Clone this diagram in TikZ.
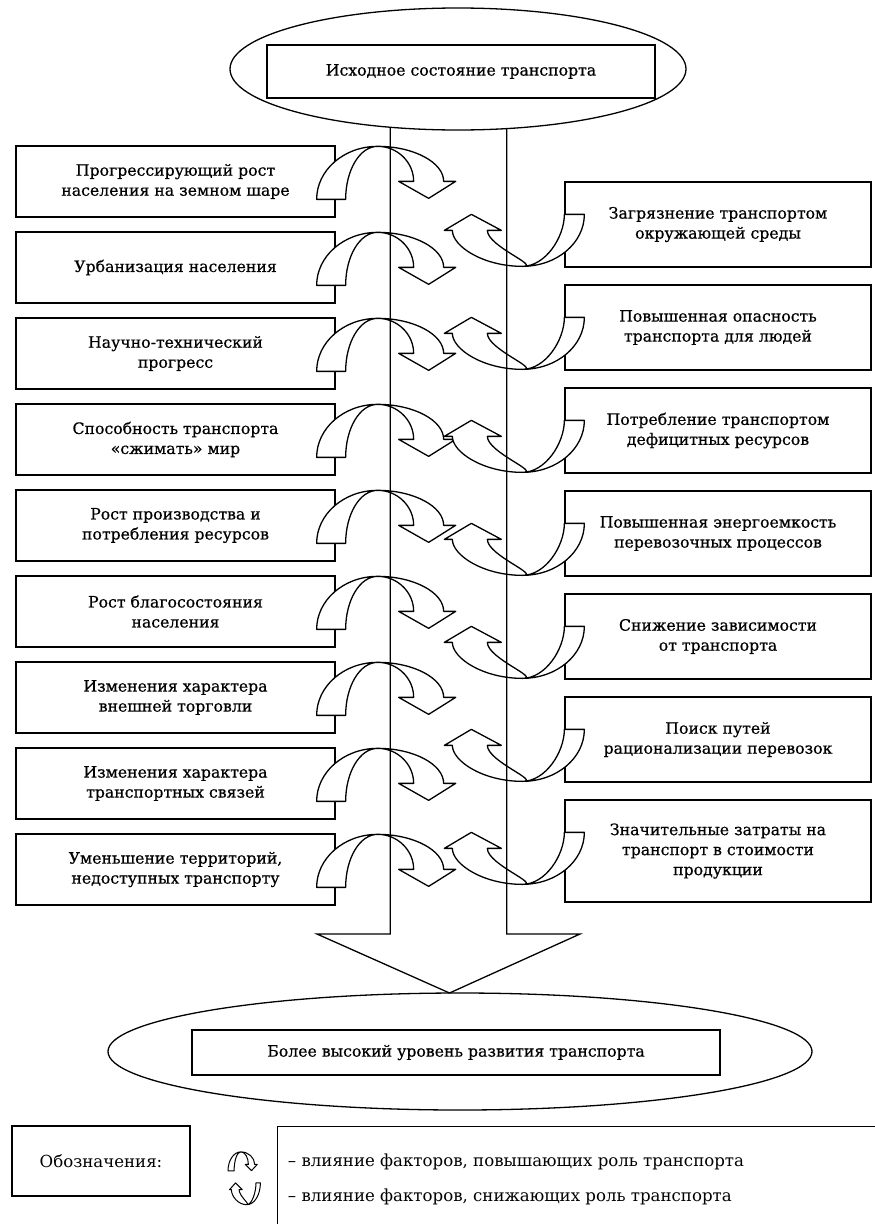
\documentclass[tikz,border=0pt]{standalone}
\usepackage{fontspec}
\setmainfont{DejaVu Serif}[FakeBold=0.6]
\newfontfamily\legendfont{DejaVu Serif}
\usetikzlibrary{shapes.geometric,positioning,calc}

\tikzset{
  riseArrow/.pic={
    \draw[bentshape] (-19,54) .. controls (-19,25) and (8,1) .. (42,1)
      .. controls (78,1) and (108,17) .. (108,36) -- (120,36) -- (93,53)
      -- (63,36) -- (78,36) .. controls (78,17) and (62,1) .. (42,1)
      .. controls (24,1) and (10,25) .. (10,54) -- cycle;
  },
  fallArrow/.pic={
    \draw[bentshape] (20,33) .. controls (20,62) and (-8,85) .. (-42,85)
      .. controls (-81,85) and (-112,65) .. (-112,49) -- (-120,49) -- (-93,33)
      -- (-63,49) -- (-77,49) .. controls (-77,65) and (-23,85) .. (-42,85)
      .. controls (-19,85) and (0,56) .. (0,33) -- cycle;
  }
}

\begin{document}
\begin{tikzpicture}[x=1pt, y=-1pt, line width=1.3pt,
    every node/.style={font=\fontsize{15.7}{20}\selectfont, align=center},
    factor/.style={draw, minimum width=319pt, minimum height=71pt, inner sep=0pt},
    effect/.style={draw, minimum width=306pt, minimum height=85pt, inner sep=0pt},
    state/.style={draw, fill=white, inner sep=0pt},
    oval/.style={draw, ellipse, fill=white, inner sep=0pt},
    bentshape/.style={draw, fill=white, line join=round},
    legendtext/.style={font=\legendfont\fontsize{16.6}{20}\selectfont}
  ]
  \useasboundingbox (0,0) rectangle (875,1224);
  \clip (0,0) rectangle (875,1224);

  % factors raising the role of transport
  \node[factor] (l1) at (175.5,181.5) {Прогрессирующий рост\\населения на земном шаре};
  \node[factor] (l2) at (175.5,267.5) {Урбанизация населения};
  \node[factor] (l3) at (175.5,353.5) {Научно-технический\\прогресс};
  \node[factor] (l4) at (175.5,439.5) {Способность транспорта\\«сжимать» мир};
  \node[factor] (l5) at (175.5,525.5) {Рост производства и\\потребления ресурсов};
  \node[factor] (l6) at (175.5,611.5) {Рост благосостояния\\населения};
  \node[factor] (l7) at (175.5,697.5) {Изменения характера\\внешней торговли};
  \node[factor] (l8) at (175.5,783.5) {Изменения характера\\транспортных связей};
  \node[factor] (l9) at (175.5,869.5) {Уменьшение территорий,\\недоступных транспорту};

  % factors lowering it
  \node[effect] (r1) at (718,224.5) {Загрязнение транспортом\\окружающей среды};
  \node[effect] (r2) at (718,327.5) {Повышенная опасность\\транспорта для людей};
  \node[effect] (r3) at (718,430.5) {Потребление транспортом\\дефицитных ресурсов};
  \node[effect] (r4) at (718,533.5) {Повышенная энергоемкость\\перевозочных процессов};
  \node[effect] (r5) at (718,636.5) {Снижение зависимости\\от транспорта};
  \node[effect] (r6) at (718,739.5) {Поиск путей\\рационализации перевозок};
  \node[effect, minimum height=102pt] (r7) at (718,851) {Значительные затраты на\\транспорт в стоимости\\продукции};

  \foreach \i in {1,...,9}
    \pic at (l\i.north east) {riseArrow};
  \foreach \i in {1,...,7}
    \pic at (r\i.north west) {fallArrow};

  \node[oval, minimum width=456pt, minimum height=122pt] (topE) at (458,69) {};
  \node[state, minimum width=388pt, minimum height=53pt] (start) at (461,71.5) {Исходное состояние транспорта};
  \node[oval, minimum width=704pt, minimum height=117pt] (bottomE) at (460,1051.5) {};
  \node[state, minimum width=528pt, minimum height=45pt] (goal) at (456,1052.5) {Более высокий уровень развития транспорта};
  \coordinate (tip) at (449.5,993);

  \draw[line join=miter] (topE.221.5) |- (317,934) -- (tip) -- (580,934) -| (topE.309.4);

  % legend
  \node[draw, minimum width=178pt, minimum height=70pt, legendtext] (legend) at (101,1161) {Обозначения:};
  \node[draw, anchor=north west, minimum width=640pt, minimum height=130pt] (legbox) at (277,1126) {};
  \node[anchor=west, legendtext] (legUp) at (284,1162) {– влияние факторов, повышающих роль транспорта};
  \node[anchor=west, legendtext] (legDown) at (284,1197) {– влияние факторов, снижающих роль транспорта};
  \pic[xscale=0.21, yscale=0.36, line width=1pt] at (232,1151.5) {riseArrow};
  \pic[xscale=0.22, yscale=0.42, line width=1pt] at (256,1169) {fallArrow};
\end{tikzpicture}
\end{document}
